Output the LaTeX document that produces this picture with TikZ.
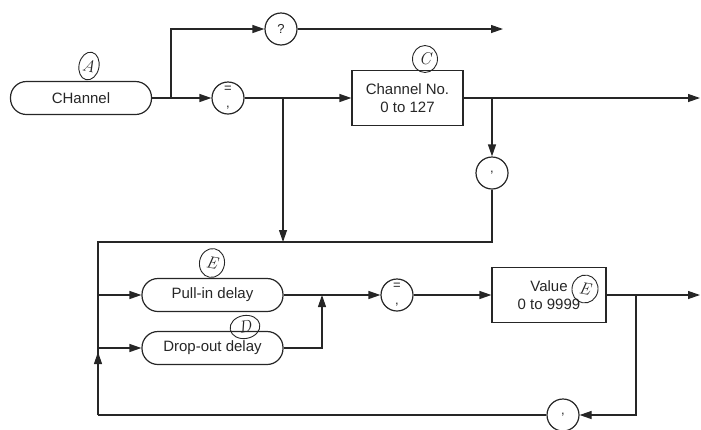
\documentclass[tikz,border=0pt]{standalone}
\usepackage{fontspec}
\setsansfont{Liberation Sans}
\usetikzlibrary{arrows.meta,shapes.geometric}
\definecolor{ink}{HTML}{262626}
\newcommand{\eqcomma}{\fontsize{13}{8}\selectfont =\\,}
\begin{document}
\begin{tikzpicture}[x=1pt,y=-1pt,line width=1.2pt,color=ink,
  txt/.style={font=\sffamily\fontsize{15}{18}\selectfont},
  term/.style={draw,txt,rectangle,rounded corners=16pt,minimum width=141pt,minimum height=33pt,inner sep=0pt},
  boxnode/.style={draw,txt,rectangle,minimum height=55pt,align=center,inner sep=0pt},
  sym/.style={draw,circle,minimum size=32pt,inner sep=0pt,align=center,font=\sffamily\fontsize{13}{15}\selectfont},
  note/.style={draw,ellipse,line width=0.9pt,inner sep=0pt,font=\itshape\fontsize{17}{17}\selectfont},
  arr/.style={-{Triangle[length=12pt,width=8pt]}}]
\useasboundingbox (0,0) rectangle (701,429);
% nodes
\node[term] (ch) at (81,98) {CHannel};
\node[sym] (q) at (281,29) {?};
\node[sym] (eq1) at (228,98) {\eqcomma};
\node[boxnode,minimum width=111pt] (cno) at (407.5,98) {Channel No.\\0 to 127};
\node[sym] (cm1) at (492,173) {,};
\node[term] (pull) at (212.5,295) {Pull-in delay};
\node[term] (drop) at (212.5,348) {Drop-out delay};
\node[sym] (eq2) at (397,295) {\eqcomma};
\node[boxnode,minimum width=114pt] (val) at (549,295) {Value\\0 to 9999};
\node[sym] (cm2) at (563,415) {,};
% annotations
\node[note,minimum width=20pt,minimum height=28pt,rotate=-12] (na) at (89,66) {A};
\node[note,minimum width=25pt,minimum height=27pt] (nc) at (425,59) {C};
\node[note,minimum width=25pt,minimum height=29pt,rotate=-10] (ne1) at (212,263) {E};
\node[note,minimum width=30pt,minimum height=23pt,rotate=10] (nd) at (245,327) {D};
\node[note,minimum width=26pt,minimum height=28pt,rotate=-10] (ne2) at (585,289) {E};
% coordinates
\coordinate (b1) at (171,98);
\coordinate (qend) at (503,29);
\coordinate (b2) at (283,98);
\coordinate (j1) at (283,242);
\coordinate (b3) at (492,98);
\coordinate (c1end) at (700,98);
\coordinate (tl) at (98,242);
\coordinate (bl) at (98,415);
\coordinate (mid) at (98,352);
\coordinate (lp) at (98,295);
\coordinate (ld) at (98,348);
\coordinate (jn) at (322,295);
\coordinate (b4) at (636,295);
\coordinate (vend) at (700,295);
% connectors
\draw (ch.east) -- (b1);
\draw[arr] (b1) -- (eq1.west);
\draw[arr] (b1) |- (q.west);
\draw[arr] (q.east) -- (qend);
\draw[arr] (eq1.east) -- (cno.west);
\draw[arr] (b2) -- (j1);
\draw[arr] (cno.east) -- (c1end);
\draw[arr] (b3) -- (cm1.north);
\draw (cm1.south) |- (tl) -- (bl);
\draw (cm2.west) -- (bl);
\draw[arr] (bl) -- (mid);
\draw[arr] (lp) -- (pull.west);
\draw[arr] (ld) -- (drop.west);
\draw[arr] (pull.east) -- (eq2.west);
\draw[arr] (drop.east) -| (jn);
\draw[arr] (eq2.east) -- (val.west);
\draw[arr] (val.east) -- (vend);
\draw[arr] (b4) |- (cm2.east);
\end{tikzpicture}
\end{document}
